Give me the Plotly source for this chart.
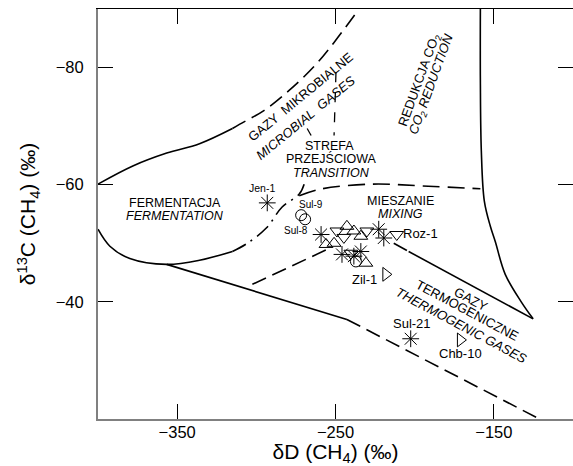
import plotly.graph_objects as go

# ---------------- boundary curves (δD, δ13C) ----------------
ferm_upper_x = [-400, -378.0, -356.6, -335.9, -315.1]
ferm_upper_y = [-60.1, -63.2, -65.4, -67.0, -69.6]
microbial_x = [-315.1, -310.7, -295.0, -279.3, -263.5, -250.9, -235.2]
microbial_y = [-69.6, -70.3, -72.7, -76.1, -80.2, -84.3, -90.0]
ferm_lower_x = [-400, -392.5, -379.9, -356.6, -335.9, -315.1]
ferm_lower_y = [-52.4, -49.5, -47.4, -46.4, -47.1, -48.6]
ferm_trans_x = [-315.1, -305.7, -293.7, -283.7, -272.9, -269.8]
ferm_trans_y = [-48.6, -50.0, -52.6, -56.2, -58.4, -60.1]
trans_split_x = [-249.7, -250.9]
trans_split_y = [-79.2, -68.4]
trans_left_x = [-267.9, -265.4]
trans_left_y = [-69.6, -68.4]
thermo_lower_solid_x = [-356.6, -242.8]
thermo_lower_solid_y = [-46.4, -37.0]
thermo_lower_dash_x = [-242.8, -123.3]
thermo_lower_dash_y = [-37.0, -20.3]
mixing_lower_x = [-302.5, -254.1]
mixing_lower_y = [-43.0, -49.1]
thermo_upper_dd_x = [-213.2, -203.8]
thermo_upper_dd_y = [-50.0, -48.6]
thermo_upper_x = [-203.8, -125.2]
thermo_upper_y = [-48.6, -37.1]
co2_x = [-158.5, -158.5, -157.9, -156.0, -152.2, -149.1, -142.8, -132.7, -125.2]
co2_y = [-90.0, -77.8, -65.8, -57.2, -52.9, -50.3, -44.7, -40.0, -37.1]
mixing_upper_x = [-272.9, -258.5, -227.1, -195.6, -158.5]
mixing_upper_y = [-58.1, -59.3, -60.1, -59.8, -59.3]

# ---------------- samples ----------------
asterisk_x = [-293.1, -259.1, -245.9, -238.4, -234.0, -222.7, -219.5, -202.5]
asterisk_y = [-56.9, -51.5, -48.1, -47.8, -48.6, -52.4, -50.9, -33.7]
tri_down_x = [-249.1, -244.7, -230.2, -211.3, -240.3]
tri_down_y = [-52.1, -51.0, -52.1, -51.5, -48.3]
tri_up_x = [-256.0, -250.9, -242.8, -238.4, -234.0, -230.8]
tri_up_y = [-49.8, -50.0, -52.9, -52.1, -51.2, -46.6]
circle_x = [-271.7, -269.2, -237.1]
circle_y = [-54.8, -54.1, -46.9]
tri_right_x = [-218.2, -171.1]
tri_right_y = [-44.7, -33.5]

# sample labels
label_text = ["Jen-1", "Sul-9", "Sul-8", "Roz-1", "Zil-1", "Sul-21", "Chb-10"]
label_x = [-296.2, -265.4, -274.9, -196.2, -231.5, -201.9, -171.1]
label_y = [-59.4, -56.7, -52.1, -51.7, -43.8, -36.3, -31.1]
label_size = [10.5, 10, 10, 13, 13, 13, 13]

# region labels (horizontal)
region_text = ["FERMENTACJA", "<i>FERMENTATION</i>", "STREFA", "PRZEJŚCIOWA",
               "<i>TRANSITION</i>", "MIESZANIE", "<i>MIXING</i>"]
region_x = [-351.6, -351.6, -254.1, -252.8, -252.8, -208.8, -208.8]
region_y = [-56.9, -54.6, -66.6, -64.4, -62.0, -57.2, -55.0]

# region labels (rotated)
rot_text = ["GAZY  MIKROBIALNE", "<i>MICROBIAL  GASES</i>",
            "REDUKCJA CO<sub>2</sub>", "<i>CO<sub>2</sub> REDUCTION</i>",
            "GAZY", "TERMOGENICZNE", "<i>THERMOGENIC GASES</i>"]
rot_x = [-271.7, -268.6, -196.9, -189.3, -164.2, -166.7, -170.5]
rot_y = [-75.0, -71.4, -77.8, -77.1, -40.4, -38.5, -35.9]
rot_angle = [-39.5, -39.5, -70, -70, 28, 28, 28]

x_ticks = [-350, -250, -150]
y_ticks = [-80, -60, -40]

AX_FONT = "Liberation Sans Narrow, Arial Narrow, Liberation Sans, Arial"
TXT_FONT = "Liberation Sans, Arial"

fig = go.Figure()

def line(x, y, dash="solid", shape="spline", width=1.6):
    fig.add_trace(go.Scatter(x=x, y=y, mode="lines", showlegend=False, hoverinfo="skip",
                             line=dict(color="black", width=width, dash=dash, shape=shape)))

DASH = "15px,7px"
DASHDOT = "15px,6px,2px,6px"
line(ferm_upper_x, ferm_upper_y)
line(microbial_x, microbial_y, DASH)
line(ferm_lower_x, ferm_lower_y)
line(ferm_trans_x, ferm_trans_y, DASHDOT)
line(trans_split_x, trans_split_y, "10px,10px", "linear", 1.3)
line(trans_left_x, trans_left_y, "solid", "linear", 1.3)
line(thermo_lower_solid_x, thermo_lower_solid_y, "solid", "linear")
line(thermo_lower_dash_x, thermo_lower_dash_y, DASH, "linear")
line(mixing_lower_x, mixing_lower_y, DASH, "linear")
line(thermo_upper_dd_x, thermo_upper_dd_y, DASHDOT, "linear")
line(thermo_upper_x, thermo_upper_y, "solid", "linear")
line(co2_x, co2_y)
line(mixing_upper_x, mixing_upper_y, "17px,8px")

def pts(x, y, symbol, size):
    fig.add_trace(go.Scatter(x=x, y=y, mode="markers", showlegend=False, hoverinfo="skip",
                             marker=dict(symbol=symbol, size=size, color="black",
                                         line=dict(color="black", width=1))))

pts(tri_down_x, tri_down_y, "triangle-down-open", 12)
pts(tri_up_x, tri_up_y, "triangle-up-open", 12)
pts(circle_x, circle_y, "circle-open", 11)
pts(tri_right_x, tri_right_y, "triangle-right-open", 12)
pts(asterisk_x, asterisk_y, "asterisk-open", 14)

# dummy trace for overlay axes
fig.add_trace(go.Scatter(x=[None], y=[None], xaxis="x2", yaxis="y2", showlegend=False,
                         hoverinfo="skip"))

ann = []
for t, x, y, s in zip(label_text, label_x, label_y, label_size):
    ann.append(dict(x=x, y=y, text=t, showarrow=False, xanchor="center", yanchor="middle",
                    font=dict(family=TXT_FONT, size=s, color="black")))
for t, x, y in zip(region_text, region_x, region_y):
    ann.append(dict(x=x, y=y, text=t, showarrow=False, xanchor="center", yanchor="middle",
                    font=dict(family=TXT_FONT, size=12.5, color="black")))
for t, x, y, a in zip(rot_text, rot_x, rot_y, rot_angle):
    ann.append(dict(x=x, y=y, text=t, showarrow=False, xanchor="center", yanchor="middle",
                    textangle=a, font=dict(family=TXT_FONT, size=13, color="black")))

fig.update_layout(
    width=573, height=466,
    margin=dict(l=98, r=0, t=9, b=47),
    paper_bgcolor="white", plot_bgcolor="white",
    annotations=ann,
    xaxis=dict(range=[-400, -100], tickvals=x_ticks, ticks="inside", ticklen=15,
               tickcolor="black", tickwidth=1, showline=True, linecolor="#808080",
               linewidth=2, showgrid=False, zeroline=False, ticklabelstandoff=-3,
               tickfont=dict(family=AX_FONT, size=16.5, color="black"),
               title=dict(text="δD (CH<sub>4</sub>) (‰)", standoff=3,
                          font=dict(family=AX_FONT, size=21, color="black"))),
    yaxis=dict(range=[-20, -90], tickvals=y_ticks, ticks="inside", ticklen=15,
               tickcolor="black", tickwidth=1, showline=True, linecolor="#808080",
               linewidth=2, showgrid=False, zeroline=False, ticklabelstandoff=9,
               tickfont=dict(family=AX_FONT, size=16.5, color="black"),
               title=dict(text="δ<sup>13</sup>C (CH<sub>4</sub>) (‰)", standoff=14,
                          font=dict(family=AX_FONT, size=21, color="black"))),
    xaxis2=dict(overlaying="x", matches="x", side="top", anchor="y2", tickvals=x_ticks,
                ticks="inside", ticklen=15, tickcolor="black", showticklabels=False,
                showline=True, linecolor="black", linewidth=1, showgrid=False, zeroline=False),
    yaxis2=dict(overlaying="y", matches="y", side="right", anchor="x2", tickvals=y_ticks,
                ticks="inside", ticklen=15, tickcolor="black", showticklabels=False,
                showline=False, showgrid=False, zeroline=False),
)

fig.write_html("out.html")
